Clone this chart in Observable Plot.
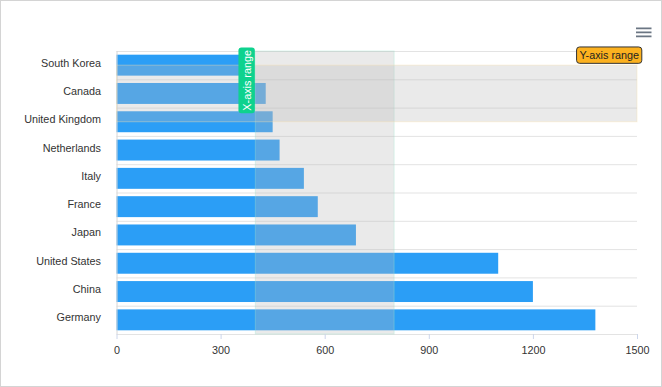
<!DOCTYPE html>
<html>
<head>
<meta charset="utf-8">
<script src="https://cdn.jsdelivr.net/npm/d3@7"></script>
<script src="https://cdn.jsdelivr.net/npm/@observablehq/plot@0.6"></script>
<style>
  html, body { margin: 0; padding: 0; background: #fff; }
  #wrap { position: relative; width: 662px; height: 387px; overflow: hidden; }
  #frame { position: absolute; left: 0; top: 0; width: 660px; height: 385px; border: 1px solid #d4d4d4; pointer-events: none; }
  #menu { position: absolute; left: 634px; top: 25px; }
</style>
</head>
<body>
<div id="wrap">
  <div id="chart"></div>
  <svg id="menu" width="20" height="16">
    <path d="M2 3.3H17.5M2 7.3H17.5M2 11.3H17.5" stroke="#6b7683" stroke-width="1.8" fill="none"/>
  </svg>
  <div id="frame"></div>
</div>
<script>
const categories = ["South Korea", "Canada", "United Kingdom", "Netherlands", "Italy", "France", "Japan", "United States", "China", "Germany"];
const values = [370, 430, 450, 470, 540, 580, 690, 1100, 1200, 1380];
const xTicks = [0, 300, 600, 900, 1200, 1500];
const xRange = [400, 800];          // X-axis range band (values)
const yRange = [0, 2];              // Y-axis range band (category positions)
const bandLabels = ["X-axis range", "Y-axis range"];

const rows = categories.map((name, i) => ({name, value: values[i], i}));
const boundaries = d3.range(-0.5, categories.length, 1);

const chart = Plot.plot({
  width: 662,
  height: 387,
  marginLeft: 116.5,
  marginRight: 25,
  marginTop: 51,
  marginBottom: 53,
  style: {fontFamily: "'Liberation Sans', Arial, Helvetica, sans-serif", fontSize: "10.8px", color: "#333", background: "transparent"},
  x: {domain: [0, 1500], label: null},
  y: {domain: [categories.length - 0.5, -0.5], label: null},
  marks: [
    Plot.ruleY(boundaries, {stroke: "#e3e3e3", strokeWidth: 1}),
    Plot.rectX(rows, {x1: 0, x2: "value", y1: d => d.i - 0.37, y2: d => d.i + 0.37, fill: "#2b9ef6", inset: 0}),
    Plot.ruleX([0], {stroke: "#d6d6d6"}),
    Plot.rect([xRange], {x1: d => d[0], x2: d => d[1], y1: -0.5, y2: categories.length - 0.5, fill: "#b9b9b9", fillOpacity: 0.3, stroke: "#9fe8d0", strokeOpacity: 0.35, inset: 0}),
    Plot.rect([yRange], {x1: 0, x2: 1500, y1: d => d[0], y2: d => d[1], fill: "#b9b9b9", fillOpacity: 0.3, stroke: "#f8e2b0", strokeOpacity: 0.4, inset: 0}),
    Plot.axisX({ticks: xTicks, tickFormat: d => String(d), tickSize: 5, tickPadding: 7, stroke: "#ccd6eb", fill: "#333", label: null}),
    Plot.axisY({ticks: d3.range(categories.length), tickFormat: i => categories[i], tickSize: 0, tickPadding: 16, dy: -2.5, fill: "#333", label: null}),
    Plot.text([bandLabels[0]], {x: xRange[0], y: -0.5, text: d => d, rotate: -90, textAnchor: "end", dx: -8.6, dy: -1.5, fill: "#fff", fontSize: 10.8}),
    Plot.text([bandLabels[1]], {x: 1500, y: -0.5, text: d => d, textAnchor: "end", dx: 1.5, dy: 4.2, fill: "#1f1f1f", fontSize: 10.8})
  ]
});

document.getElementById("chart").appendChild(chart);

// Label boxes behind the band labels
const svgRect = chart.getBoundingClientRect();
const boxStyles = {
  "X-axis range": {fill: "#0ed28e", stroke: "none", pad: [2.5, 2.2]},
  "Y-axis range": {fill: "#fcb11f", stroke: "#333", pad: [2.8, 2.2]}
};
chart.querySelectorAll("text").forEach(t => {
  const st = boxStyles[t.textContent];
  if (!st) return;
  const r = t.getBoundingClientRect();
  const rotated = r.height > r.width;
  const px = rotated ? st.pad[1] : st.pad[0];
  const py = rotated ? st.pad[0] : st.pad[1];
  const g = t.closest("g");
  const rect = document.createElementNS("http://www.w3.org/2000/svg", "rect");
  rect.setAttribute("x", r.left - svgRect.left - px);
  rect.setAttribute("y", r.top - svgRect.top - py);
  rect.setAttribute("width", r.width + 2 * px);
  rect.setAttribute("height", r.height + 2 * py);
  rect.setAttribute("rx", 3);
  rect.setAttribute("fill", st.fill);
  rect.setAttribute("stroke", st.stroke);
  rect.setAttribute("stroke-width", 1);
  g.parentNode.insertBefore(rect, g);
});
</script>
</body>
</html>
